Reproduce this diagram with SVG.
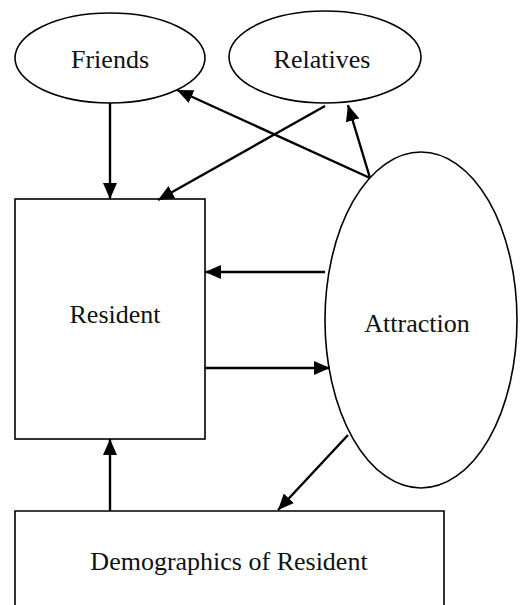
<svg xmlns="http://www.w3.org/2000/svg" width="520" height="605" viewBox="0 0 520 605">
<style>
.shape{fill:none;stroke:#000;stroke-width:1.6}
.lbl{font-family:"Liberation Serif","Times New Roman",serif;font-size:26px;fill:#111;text-anchor:middle}
.conn line{stroke:#000;stroke-width:2.4;marker-end:url(#ah)}
</style>
<defs>
<marker id="ah" markerUnits="userSpaceOnUse" markerWidth="18" markerHeight="14" refX="16" refY="7" orient="auto">
<path d="M0,0 L16,7 L0,14 Z" fill="#000"/>
</marker>
</defs>
<rect width="520" height="605" fill="#fff"/>
<g id="friends"><ellipse class="shape" cx="110" cy="58" rx="95" ry="45"/><text class="lbl" x="110" y="68">Friends</text></g>
<g id="relatives"><ellipse class="shape" cx="325" cy="57" rx="96" ry="46"/><text class="lbl" x="322" y="68">Relatives</text></g>
<g id="resident"><rect class="shape" x="15" y="199" width="190" height="240"/><text class="lbl" x="115" y="323">Resident</text></g>
<g id="attraction"><ellipse class="shape" cx="421" cy="320" rx="96" ry="168"/><text class="lbl" x="417" y="332">Attraction</text></g>
<g id="demographics"><path class="shape" d="M15,608 L15,511 L444,511 L444,608"/><text class="lbl" x="229" y="570">Demographics of Resident</text></g>
<g class="conn" id="connectors">
<line x1="110" y1="103" x2="110" y2="199"/>
<line x1="325" y1="106" x2="158" y2="200"/>
<line x1="370" y1="178" x2="177" y2="90"/>
<line x1="370" y1="178" x2="348" y2="105"/>
<line x1="325" y1="272" x2="205" y2="272"/>
<line x1="205" y1="368" x2="330" y2="368"/>
<line x1="348" y1="435" x2="278" y2="510"/>
<line x1="110" y1="511" x2="110" y2="439"/>
</g>
</svg>
